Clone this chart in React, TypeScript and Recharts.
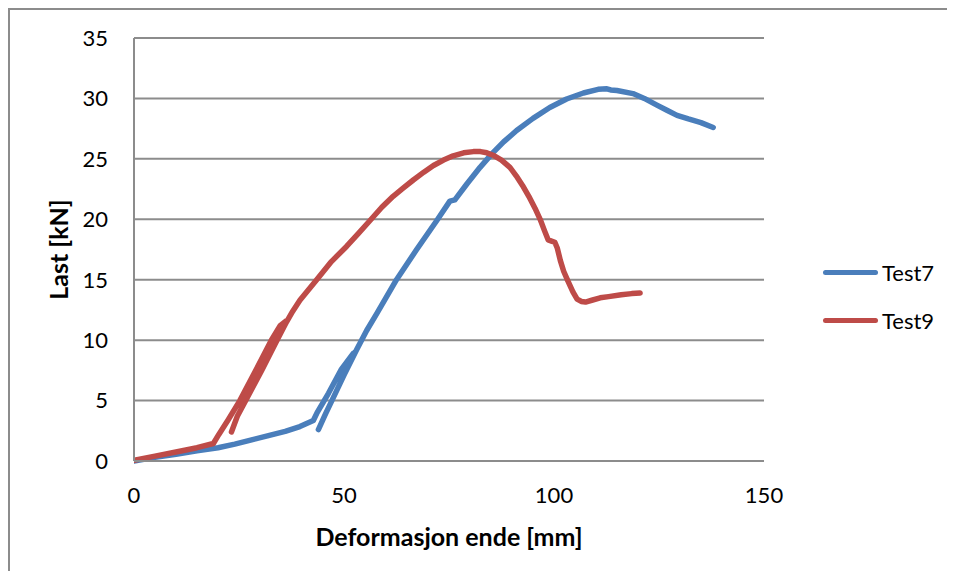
import React from "react";
import { LineChart, Line, XAxis, YAxis, CartesianGrid } from "recharts";

// Deformasjon [mm] / last [kN] for each test, in test order (incl. unload/reload loops)
const test7Def = [
  0, 5, 10, 15, 20, 24, 28, 32, 36, 39.5, 42.7, 43.6, 46.3, 49.4, 52.2, 50,
  47.4, 45.6, 43.9, 45.6, 47.4, 50, 53, 55.4, 57.8, 62.5, 67.3, 72.1, 75.2,
  76.4, 79.2, 82.4, 85.3, 88, 91.1, 95, 99, 103, 107, 110.5, 112.6, 113.5, 115,
  118.8, 121.5, 124.5, 127, 129.3, 132, 135, 137.9,
];
const test7Load = [
  0, 0.3, 0.55, 0.85, 1.1, 1.4, 1.75, 2.1, 2.45, 2.85, 3.35, 4.0, 5.6, 7.6, 8.9,
  7.1, 5.2, 3.9, 2.6, 3.9, 5.2, 7.1, 9.2, 10.8, 12.2, 15, 17.5, 19.9, 21.5,
  21.6, 22.9, 24.3, 25.45, 26.4, 27.35, 28.35, 29.25, 29.95, 30.45, 30.75, 30.8,
  30.7, 30.65, 30.4, 30, 29.45, 29, 28.6, 28.3, 28, 27.6,
];

const test9Def = [
  0, 5, 10, 15, 18.9, 20.2, 22.4, 25.2, 29, 32.7, 34.8, 36.3, 34.2, 30.4, 26.6,
  24.6, 23.2, 24.6, 26.6, 30.4, 34.2, 36.3, 37.8, 39.5, 43.5, 47, 50.6, 53.5,
  56.2, 59, 61.7, 64, 66.5, 69, 71.3, 73.7, 76, 78.5, 80.8, 82.5, 84, 85.5,
  87.5, 89.5, 91, 92.5, 94, 95.5, 96.7, 97.8, 98.6, 99.4, 100.2, 100.8, 101.5,
  102.3, 103.3, 104.5, 105.5, 106.5, 107.5, 109, 111, 113, 116, 118.5, 120.5,
];
const test9Load = [
  0.05, 0.4, 0.75, 1.1, 1.45, 2.2, 3.4, 5, 7.5, 10, 11.2, 11.6, 10.1, 7.5, 5,
  3.7, 2.4, 3.7, 5, 7.5, 10.1, 11.5, 12.4, 13.3, 15, 16.5, 17.75, 18.85, 19.9,
  21, 21.9, 22.55, 23.25, 23.9, 24.45, 24.9, 25.25, 25.5, 25.6, 25.6, 25.5,
  25.3, 24.9, 24.3, 23.6, 22.8, 21.9, 20.9, 20, 19, 18.3, 18.2, 18.1, 17.6,
  16.6, 15.7, 14.9, 14, 13.4, 13.2, 13.15, 13.3, 13.5, 13.6, 13.75, 13.85, 13.9,
];

const xTicks = [0, 50, 100, 150];
const yTicks = [0, 5, 10, 15, 20, 25, 30, 35];

const toPoints = (xs: number[], ys: number[]) =>
  xs.map((x, i) => ({ x, y: ys[i] }));

const series = [
  { name: "Test7", color: "#4A7EBB", data: toPoints(test7Def, test7Load) },
  { name: "Test9", color: "#BE4B48", data: toPoints(test9Def, test9Load) },
];

const FONT = "Lato, 'Noto Sans', sans-serif";
const GRID = "#8c8c8c";

const XTitle = ({ viewBox }: any) => (
  <text
    x={viewBox.x + viewBox.width / 2}
    y={536}
    textAnchor="middle"
    dominantBaseline="central"
    fontFamily={FONT}
    fontWeight="bold"
    fontSize={25}
    fill="#000"
  >
    Deformasjon ende [mm]
  </text>
);

const YTitle = ({ viewBox }: any) => {
  const cy = viewBox.y + viewBox.height / 2;
  return (
    <text
      x={58}
      y={cy}
      transform={`rotate(-90 58 ${cy})`}
      textAnchor="middle"
      dominantBaseline="central"
      fontFamily={FONT}
      fontWeight="bold"
      fontSize={25}
      fill="#000"
    >
      Last [kN]
    </text>
  );
};

export default function App() {
  return (
    <div style={{ position: "relative", width: 939, height: 563, fontFamily: FONT }}>
      {/* chart frame, open at right and bottom */}
      <div
        style={{
          position: "absolute",
          left: 0,
          top: 0,
          width: 947,
          height: 571,
          boxSizing: "border-box",
          borderLeft: `2px solid ${GRID}`,
          borderTop: `2px solid ${GRID}`,
        }}
      />
      <div style={{ position: "absolute", left: -8, top: -8 }}>
        <LineChart
          width={955}
          height={579}
          margin={{ top: 38, right: 191, bottom: 78, left: 74 }}
        >
          <CartesianGrid vertical={false} stroke={GRID} strokeWidth={2} />
          <XAxis
            type="number"
            dataKey="x"
            domain={[0, 150]}
            ticks={xTicks}
            allowDataOverflow
            height={40}
            axisLine={{ stroke: GRID, strokeWidth: 2 }}
            tickLine={false}
            tickSize={0}
            tickMargin={26}
            tick={{ fill: "#000", fontSize: 22, fontFamily: FONT }}
            label={<XTitle />}
          />
          <YAxis
            type="number"
            dataKey="y"
            domain={[0, 35]}
            ticks={yTicks}
            width={60}
            axisLine={{ stroke: GRID, strokeWidth: 2 }}
            tickLine={false}
            tickSize={0}
            tickMargin={26}
            tick={{ fill: "#000", fontSize: 22, fontFamily: FONT }}
            label={<YTitle />}
          />
          {series.map((s) => (
            <Line
              key={s.name}
              data={s.data}
              dataKey="y"
              type="linear"
              stroke={s.color}
              strokeWidth={5.5}
              strokeLinejoin="round"
              strokeLinecap="round"
              dot={false}
              isAnimationActive={false}
            />
          ))}
        </LineChart>
      </div>
      {series.map((s, i) => (
        <div
          key={s.name}
          style={{
            position: "absolute",
            left: 815,
            top: 250 + i * 48,
            height: 28,
            display: "flex",
            alignItems: "center",
          }}
        >
          <span
            style={{
              display: "inline-block",
              width: 55,
              height: 5,
              borderRadius: 3,
              background: s.color,
              marginRight: 4,
            }}
          />
          <span style={{ fontSize: 22, color: "#000" }}>{s.name}</span>
        </div>
      ))}
    </div>
  );
}
